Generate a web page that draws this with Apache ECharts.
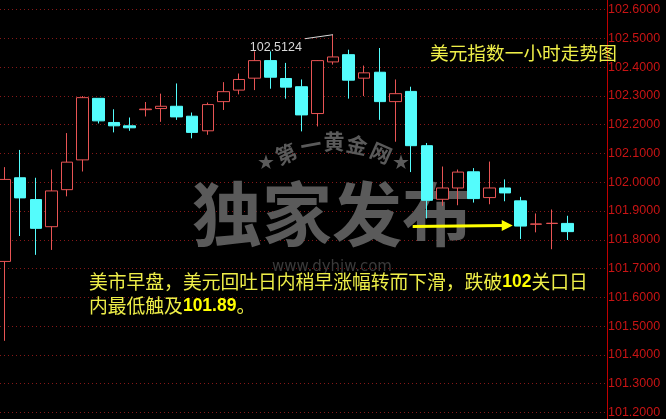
<!DOCTYPE html>
<html><head><meta charset="utf-8">
<script src="https://cdn.jsdelivr.net/npm/echarts@6/dist/echarts.min.js"></script>
<style>html,body{margin:0;padding:0;background:#000;overflow:hidden}#c{width:666px;height:419px}</style>
</head><body><div id="c"></div>
<script>
// ---- data ----
const opens  = [101.7248,102.0155,101.9397,101.8455,101.9741,102.0776,102.2914,102.2076,102.1959,102.2520,
  102.2559,102.2638,102.2293,102.1786,102.2800,102.3200,102.3614,102.4224,102.3603,102.3317,
  102.2386,102.4179,102.4431,102.3614,102.3821,102.2800,102.3155,102.1269,101.9407,101.9800,
  102.0362,101.9466,101.9800,101.9352,101.8540,101.8565,101.8569];
const closes = [102.0097,101.9455,101.8397,101.9697,102.0697,102.2938,102.2131,102.1959,102.1890,102.2540,
  102.2638,102.2269,102.1731,102.2697,102.3145,102.3569,102.4224,102.3648,102.3303,102.2338,
  102.4224,102.4352,102.3545,102.3800,102.2800,102.3076,102.1269,101.9372,101.9800,102.0352,
  101.9431,101.9800,101.9628,101.8476,101.8550,101.8575,101.8283];
const lows   = [101.4490,101.8131,101.7476,101.7648,101.9510,102.0372,102.2041,102.1731,102.1786,102.2283,
  102.2097,102.2166,102.1524,102.1648,102.2510,102.3052,102.3200,102.3248,102.2903,102.1766,
  102.1938,102.4086,102.2903,102.2993,102.2166,102.1407,102.0352,101.8741,101.9179,101.9200,
  101.9293,101.9234,101.9338,101.8028,101.8259,101.7672,101.7993];
const highs  = [102.0524,102.1121,102.0155,102.0441,102.1707,102.2993,102.2914,102.2534,102.2248,102.2786,
  102.3076,102.3431,102.2421,102.2766,102.3476,102.3776,102.4545,102.4545,102.4145,102.3569,
  102.4240,102.5124,102.4603,102.4052,102.4662,102.3569,102.3317,102.1362,102.0545,102.0441,
  102.0490,102.0717,102.0097,101.9490,101.8914,101.9052,101.8834];
const yMin = 101.2, yMax = 102.6, yStep = 0.1;
const xMin = -0.288, xMax = 38.525;   // hour slots shown (the last ones empty)
const peakIndex = 21;
const peakText = '102.5124';
const arrowFrom = [26.1, 101.8460];
const arrowTo   = [32.5, 101.8500];
const titleText = '美元指数一小时走势图';
const note1 = ['美市早盘，美元回吐日内稍早涨幅转而下滑，跌破', '102', '关口日'];
const note2 = ['内最低触及', '101.89', '。'];
const wmMain = '独家发布';
const wmArc = ['第','一','黄','金','网'];
const wmSite = 'www.dyhjw.com';

// ---- chart ----
const GRID_RIGHT = 59;
const chart = echarts.init(document.getElementById('c'), null, {renderer:'canvas'});
const kData = opens.map((o, i) => [i, o, closes[i], lows[i], highs[i]]);
const CJK = '"Noto Sans CJK SC", sans-serif';
const option = {
  backgroundColor: '#000',
  animation: false,
  grid: {left: 0, right: GRID_RIGHT, top: 9.5, bottom: 2, containLabel: false},
  xAxis: {type: 'value', min: xMin, max: xMax, show: false, splitLine: {show: false}},
  yAxis: {
    type: 'value', position: 'right', min: yMin, max: yMax, interval: yStep,
    axisLine: {show: true, onZero: false, lineStyle: {color: '#c00000', width: 1}},
    axisTick: {show: false},
    axisLabel: {color: '#c81414', fontSize: 12.5, fontFamily: '"Liberation Sans", Arial, sans-serif',
      margin: 1, padding: [5, 0, 0, 0], formatter: v => v.toFixed(4)},
    splitLine: {show: true, lineStyle: {color: '#861818', width: 1, type: [1, 3]}}
  },
  series: [{
    type: 'candlestick', data: kData, encode: {x: 0, y: [1, 2, 3, 4]}, barWidth: 12, z: 5,
    itemStyle: {color: '#000', color0: '#54fcfc', borderColor: '#e85454', borderColor0: '#54fcfc', borderWidth: 1}
  }]
};
chart.setOption(option);

const wmColor = '#5a5a5a';
const g = [];
// full-height axis line (extends the y axis line to the picture edges)
const axX = chart.getWidth() - GRID_RIGHT + 0.5;
g.push({type: 'line', z: 50, shape: {x1: axX, y1: 0, x2: axX, y2: chart.getHeight()},
  style: {stroke: '#c00000', lineWidth: 1}});
// watermark
g.push({type: 'text', x: 332, y: 214, z: 1, style: {text: wmMain, fill: wmColor,
  font: 'bold 70px ' + CJK, align: 'center', verticalAlign: 'middle', textAlign: 'center', textVerticalAlign: 'middle'}});
const arcPos = [[286,154,0.42],[311,145,0.18],[334,141,0],[357,145,-0.2],[381,153,-0.42]];
wmArc.forEach((ch, i) => g.push({type: 'text', x: arcPos[i][0], y: arcPos[i][1], rotation: arcPos[i][2], z: 1,
  style: {text: ch, fill: wmColor, font: 'bold 21px ' + CJK, align: 'center', verticalAlign: 'middle',
    textAlign: 'center', textVerticalAlign: 'middle'}}));
[[266,164],[401,164]].forEach(p => g.push({type: 'text', x: p[0], y: p[1], z: 1,
  style: {text: '★', fill: wmColor, font: '20px "DejaVu Sans"', align: 'center', verticalAlign: 'middle',
    textAlign: 'center', textVerticalAlign: 'middle'}}));
g.push({type: 'text', x: 332, y: 267, z: 1, style: {text: wmSite, fill: '#3a3a3a', font: '15px "DejaVu Sans"',
  align: 'center', verticalAlign: 'middle', textAlign: 'center', textVerticalAlign: 'middle'}});

// title
g.push({type: 'text', x: 430, y: 53, z: 100, style: {text: titleText, fill: '#eeee48', font: '18.7px ' + CJK,
  align: 'left', verticalAlign: 'middle', textAlign: 'left', textVerticalAlign: 'middle'}});
// note
g.push({type: 'text', x: 89, y: 270, z: 100, style: {
  text: '{n|' + note1[0] + '}{b|' + note1[1] + '}{n|' + note1[2] + '}\n{n|' + note2[0] + '}{b|' + note2[1] + '}{n|' + note2[2] + '}',
  align: 'left', verticalAlign: 'top', textAlign: 'left', textVerticalAlign: 'top',
  rich: {
    n: {fill: '#eeee48', fontSize: 18.8, fontFamily: '"Noto Sans CJK SC"', lineHeight: 24},
    b: {fill: '#ffff00', fontSize: 17.5, fontWeight: 'bold', fontFamily: '"Liberation Sans", Arial', lineHeight: 24}
  }}});

// peak annotation
const pk = chart.convertToPixel({gridIndex: 0}, [peakIndex, highs[peakIndex]]);
g.push({type: 'line', z: 100, shape: {x1: pk[0] - 28, y1: pk[1] + 4, x2: pk[0], y2: pk[1]},
  style: {stroke: '#d8d8d8', lineWidth: 1}});
g.push({type: 'text', x: pk[0] - 31, y: pk[1] + 13, z: 100, style: {text: peakText, fill: '#d8d8d8',
  font: '12.5px "Liberation Sans", Arial', align: 'right', verticalAlign: 'middle', textAlign: 'right', textVerticalAlign: 'middle'}});

// arrow
const a1 = chart.convertToPixel({gridIndex: 0}, arrowFrom);
const a2 = chart.convertToPixel({gridIndex: 0}, arrowTo);
const sx = a1[0], sy = a1[1], tx = a2[0], ty = a2[1];
g.push({type: 'line', z: 100, shape: {x1: sx, y1: sy, x2: tx - 9, y2: ty}, style: {stroke: '#ffff00', lineWidth: 3}});
g.push({type: 'polygon', z: 100, shape: {points: [[tx, ty], [tx - 11, ty - 5.5], [tx - 11, ty + 5.5]]},
  style: {fill: '#ffff00'}});

chart.setOption({graphic: {elements: g}});
</script>
</body></html>
